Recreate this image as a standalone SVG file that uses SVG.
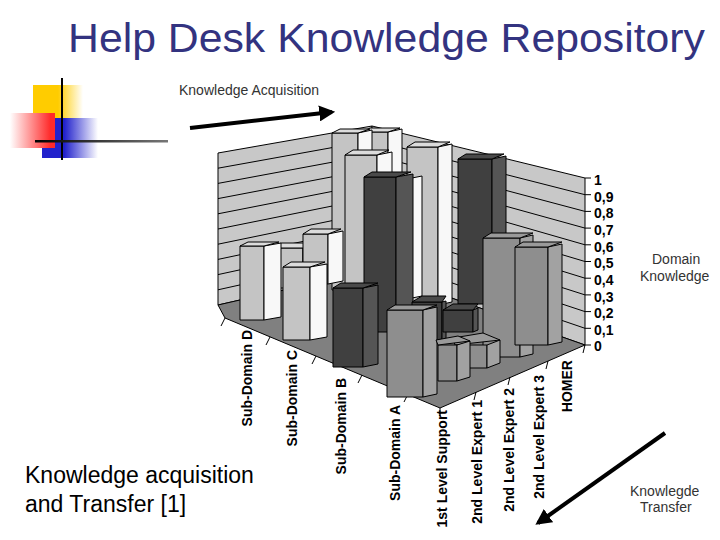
<svg xmlns="http://www.w3.org/2000/svg" width="720" height="540" viewBox="0 0 720 540">
<defs>
<linearGradient id="gy" x1="0" x2="1"><stop offset="0.5" stop-color="#ffcc00"/><stop offset="1" stop-color="#fff"/></linearGradient>
<linearGradient id="gr" x1="0" x2="1"><stop offset="0" stop-color="#fff"/><stop offset="0.9" stop-color="#ff2a2a"/></linearGradient>
<linearGradient id="gb" x1="0" x2="1"><stop offset="0.4" stop-color="#2222cc"/><stop offset="1" stop-color="#fff"/></linearGradient>
<linearGradient id="gl" x1="0" x2="1"><stop offset="0" stop-color="#000"/><stop offset="1" stop-color="#777"/></linearGradient>
<marker id="ah" viewBox="0 0 10 10" refX="8" refY="5" markerWidth="4" markerHeight="4" orient="auto"><path d="M0,0L10,5L0,10z" fill="#000"/></marker>
</defs>
<style>
.t{font-family:"Liberation Sans",Arial,sans-serif}
.lb{font-family:"Liberation Sans",Arial,sans-serif;font-weight:bold;font-size:14px;fill:#000}
.g{stroke:#000;stroke-width:1}
.bar path{stroke:#000;stroke-width:1;stroke-linejoin:round}
.lt .f{fill:#c4c4c4}.lt .s{fill:#f8f8f8}.lt .u{fill:#dcdcdc}
.dk .f{fill:#404040}.dk .s{fill:#555}.dk .u{fill:#4a4a4a}
.md .f{fill:#8e8e8e}.md .s{fill:#a2a2a2}.md .u{fill:#9a9a9a}
</style>
<rect width="720" height="540" fill="#fff"/>
<text class="t" x="68" y="52" font-size="41" fill="#333380" textLength="637" lengthAdjust="spacingAndGlyphs">Help Desk Knowledge Repository</text>
<g id="logo">
<rect x="33" y="85" width="50" height="45" fill="url(#gy)"/>
<rect x="42" y="118" width="56" height="40" fill="url(#gb)"/>
<rect x="10" y="113" width="45" height="35" fill="url(#gr)"/>
<line x1="62" y1="78" x2="62" y2="160" stroke="#000" stroke-width="2"/>
<rect x="35" y="140" width="133" height="2.5" fill="url(#gl)"/>
</g>
<g id="chart">
<path d="M218,153 L372,126 L372,270 L218,305 Z" fill="#c8c8c8" class="g"/>
<path d="M372,126 L585,178 L585,345 L372,270 Z" fill="#c8c8c8" class="g"/>
<path d="M218,305 L372,270 L585,345 L440,408 L225,318 Z" fill="#808080" class="g"/>
<g stroke="#000" stroke-width="1">
<line x1="218" y1="168.2" x2="372" y2="140.4"/><line x1="218" y1="183.4" x2="372" y2="154.8"/><line x1="218" y1="198.6" x2="372" y2="169.2"/><line x1="218" y1="213.8" x2="372" y2="183.6"/><line x1="218" y1="229" x2="372" y2="198"/><line x1="218" y1="244.2" x2="372" y2="212.4"/><line x1="218" y1="259.4" x2="372" y2="226.8"/><line x1="218" y1="274.6" x2="372" y2="241.2"/><line x1="218" y1="289.8" x2="372" y2="255.6"/>
<line x1="372" y1="140.4" x2="585" y2="194.7"/><line x1="372" y1="154.8" x2="585" y2="211.4"/><line x1="372" y1="169.2" x2="585" y2="228.1"/><line x1="372" y1="183.6" x2="585" y2="244.8"/><line x1="372" y1="198" x2="585" y2="261.5"/><line x1="372" y1="212.4" x2="585" y2="278.2"/><line x1="372" y1="226.8" x2="585" y2="294.9"/><line x1="372" y1="241.2" x2="585" y2="311.6"/><line x1="372" y1="255.6" x2="585" y2="328.3"/>
<path d="M585,178h6M585,194.7h6M585,211.4h6M585,228.1h6M585,244.8h6M585,261.5h6M585,278.2h6M585,294.9h6M585,311.6h6M585,328.3h6M585,345h6"/>
<path d="M225,318l-4,8M270,337l-4,8M316,356l-4,8M362,375l-4,8M408,394l-4,8M440,408l0,8M476,392l-2,8M510,377l-2,8M548,361l-2,8M585,345l-2,8"/>
</g>
<g class="bar lt"><path class="f" d="M362,132h26v158h-26z"/><path class="s" d="M388,132l14,-3v158l-14,3z"/><path class="u" d="M362,132l8,-4h30l-12,4z"/></g>
<g class="bar lt"><path class="f" d="M332,133h26v157h-26z"/><path class="s" d="M358,133l14,-3v157l-14,3z"/><path class="u" d="M332,133l8,-4h30l-12,4z"/></g>
<g class="bar lt"><path class="f" d="M345,155h32v145h-32z"/><path class="s" d="M377,155l15,-3v145l-15,3z"/><path class="u" d="M345,155l8,-5h36l-12,5z"/></g>
<g class="bar lt"><path class="f" d="M407,147h31v158h-31z"/><path class="s" d="M438,147l14,-3v158l-14,3z"/><path class="u" d="M407,147l8,-5h35l-12,5z"/></g>
<g class="bar lt"><path class="f" d="M392,178h20v120h-20z"/><path class="s" d="M412,178l10,-2v120l-10,2z"/></g>
<g class="bar dk"><path class="f" d="M364,177h32v155h-32z"/><path class="s" d="M396,177l17,-3v155l-17,3z"/><path class="u" d="M364,177l8,-5h39l-15,5z"/></g>
<g class="bar dk"><path class="f" d="M458,159h34v145h-34z"/><path class="s" d="M492,159l14,-3v145l-14,3z"/><path class="u" d="M458,159l8,-5h38l-12,5z"/></g>
<g class="bar lt"><path class="f" d="M273,248h30v40h-30z"/><path class="s" d="M303,248l8,-2v40l-8,2z"/><path class="u" d="M273,248l8,-5h28l-6,5z"/></g>
<g class="bar lt"><path class="f" d="M303,234h25v50h-25z"/><path class="s" d="M328,234l15,-3v50l-15,3z"/><path class="u" d="M303,234l8,-5h30l-13,5z"/></g>
<g class="bar lt"><path class="f" d="M240,246h24v74h-24z"/><path class="s" d="M264,246l17,-3v74l-17,3z"/><path class="u" d="M240,246l8,-4h31l-15,4z"/></g>
<g class="bar lt"><path class="f" d="M283,267h27v73h-27z"/><path class="s" d="M310,267l17,-3v73l-17,3z"/><path class="u" d="M283,267l8,-5h34l-15,5z"/></g>
<g class="bar dk"><path class="f" d="M412,302h30v38h-30z"/><path class="s" d="M442,302l4,-1v38l-4,1z"/><path class="u" d="M412,302l10,-6h24l-4,6z"/></g>
<g class="bar dk"><path class="f" d="M443,310h30v22h-30z"/><path class="s" d="M473,310l5,-2v22l-5,2z"/><path class="u" d="M443,310l10,-6h25l-5,6z"/></g>
<g class="bar md"><path class="f" d="M483,238h37v119h-37z"/><path class="s" d="M520,238l13,-3v119l-13,3z"/><path class="u" d="M483,238l8,-5h42l-13,5z"/></g>
<g class="bar md"><path class="f" d="M515,247h33v98h-33z"/><path class="s" d="M548,247l14,-3v98l-14,3z"/><path class="u" d="M515,247l8,-5h39l-14,5z"/></g>
<g class="bar dk"><path class="f" d="M333,288h30v79h-30z"/><path class="s" d="M363,288l15,-3v79l-15,3z"/><path class="u" d="M333,288l8,-5h37l-15,5z"/></g>
<g class="bar md"><path class="f" d="M387,310h36v87h-36z"/><path class="s" d="M423,310l14,-3v87l-14,3z"/><path class="u" d="M387,310l8,-5h42l-14,5z"/></g>
<g class="bar md"><path class="f" d="M455,345h32v23h-32z"/><path class="s" d="M487,345l13,-5v23l-13,5z"/><path class="u" d="M455,345l-2,-7l30,-5l17,7z"/></g>
<g class="bar md"><path class="f" d="M438,345h19v36h-19z"/><path class="s" d="M457,345l13,-4v36l-13,4z"/><path class="u" d="M438,345l-2,-5l22,-4l12,5z"/></g>
<g class="lb">
<text transform="rotate(-90 252 330)" x="252" y="330" text-anchor="end">Sub-Domain D</text>
<text transform="rotate(-90 297 350)" x="297" y="350" text-anchor="end">Sub-Domain C</text>
<text transform="rotate(-90 346 378)" x="346" y="378" text-anchor="end">Sub-Domain B</text>
<text transform="rotate(-90 400 405)" x="400" y="405" text-anchor="end">Sub-Domain A</text>
<text transform="rotate(-90 447 410)" x="447" y="410" text-anchor="end">1st Level Support</text>
<text transform="rotate(-90 482 400)" x="482" y="400" text-anchor="end">2nd Level Expert 1</text>
<text transform="rotate(-90 514 388)" x="514" y="388" text-anchor="end">2nd Level Expert 2</text>
<text transform="rotate(-90 544 375)" x="544" y="375" text-anchor="end">2nd Level Expert 3</text>
<text transform="rotate(-90 572 360)" x="572" y="360" text-anchor="end">HOMER</text>
<text x="594" y="185">1</text><text x="594" y="202">0,9</text><text x="594" y="218">0,8</text><text x="594" y="235">0,7</text><text x="594" y="252">0,6</text><text x="594" y="268">0,5</text><text x="594" y="285">0,4</text><text x="594" y="302">0,3</text><text x="594" y="318">0,2</text><text x="594" y="335">0,1</text><text x="594" y="351">0</text>
</g>
</g>
<g id="arrows" stroke="#000" stroke-width="4" fill="none">
<line x1="190" y1="128" x2="332" y2="112" marker-end="url(#ah)"/>
<line x1="665" y1="433" x2="538" y2="523" marker-end="url(#ah)"/>
</g>
<g class="t" font-size="14" fill="#333">
<text x="179" y="95">Knowledge Acquisition</text>
<text x="652" y="264">Domain</text><text x="640" y="281">Knowledge</text>
<text x="630" y="496">Knowlegde</text><text x="640" y="512">Transfer</text>
</g>
<g class="t" font-size="23" fill="#000">
<text x="25" y="483">Knowledge acquisition</text>
<text x="25" y="512">and Transfer [1]</text>
</g>
</svg>
